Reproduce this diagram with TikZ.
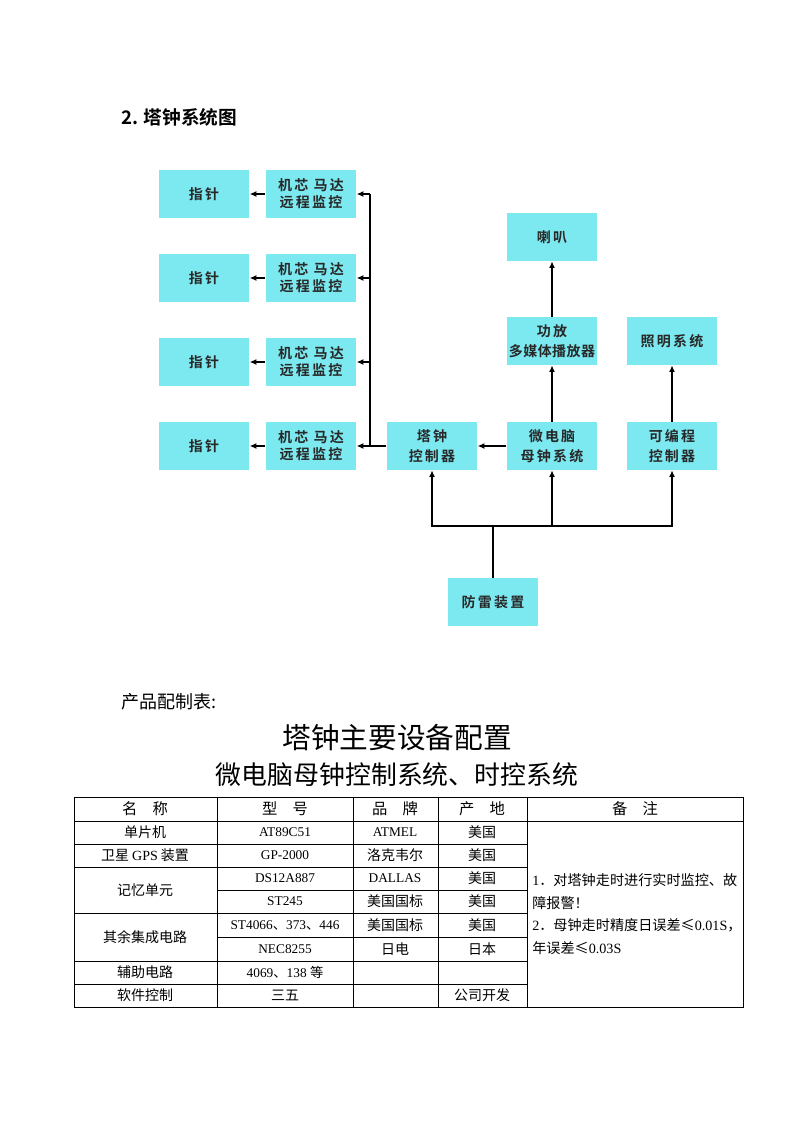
\documentclass[tikz,border=0pt]{standalone}
\usepackage{fontspec}
\setmainfont{Liberation Serif}
\newfontfamily\cjk{Noto Sans CJK SC}
\newfontfamily\cjkbf{Noto Sans CJK SC Bold}
\newfontfamily\boxfont[LetterSpace=16]{Noto Sans CJK SC Bold}
\usetikzlibrary{arrows.meta}
\definecolor{boxcyan}{RGB}{124,232,240}
\definecolor{boxtext}{RGB}{40,40,40}

\begin{document}
\begin{tikzpicture}[x=0.75pt, y=-0.75pt, >={Latex[length=5pt,width=4.4pt]},
  blk/.style={fill=boxcyan, minimum width=68pt, minimum height=36pt, inner sep=0pt,
    align=center, text=boxtext, font=\boxfont\fontsize{10.5}{13}\selectfont},
  wire/.style={line width=1.4pt},
  tbl/.style={line width=0.6pt},
  hdr/.style={inner sep=0pt, font=\cjk\fontsize{11.5}{13}\selectfont},
  zh/.style={inner sep=0pt, font=\cjk\fontsize{10.5}{12}\selectfont},
  en/.style={inner sep=0pt, font=\fontsize{10}{12}\selectfont}]
\useasboundingbox (0,0) rectangle (794,1123);

\node[anchor=west, inner sep=0pt, font=\cjkbf\fontsize{14}{16}\selectfont] (ttl) at (121,117) {2. 塔钟系统图};

% hands and movement monitors
\node[blk] (hd1) at (204,194) {指针};
\node[blk] (hd2) at (204,278) {指针};
\node[blk] (hd3) at (204,362) {指针};
\node[blk] (hd4) at (204,446) {指针};
\node[blk] (mt1) at (311,194) {机芯 马达\\远程监控};
\node[blk] (mt2) at (311,278) {机芯 马达\\远程监控};
\node[blk] (mt3) at (311,362) {机芯 马达\\远程监控};
\node[blk] (mt4) at (311,446) {机芯 马达\\远程监控};

% main chain
\node[blk] (tc) at (432,446) {塔钟\\[2pt]控制器};
\node[blk] (mc) at (552,446) {微电脑\\[2pt]母钟系统};
\node[blk] (plc) at (672,446) {可编程\\[2pt]控制器};
\node[blk] (amp) at (552,341) {功放\\[2pt]{\addfontfeature{LetterSpace=3}多媒体播放器}};
\node[blk] (lit) at (672,341) {照明系统};
\node[blk] (spk) at (552,237) {喇叭};
\node[blk] (lp) at (493,602) {防雷装置};

\coordinate (tk1) at (370,194);
\coordinate (tk2) at (370,278);
\coordinate (tk3) at (370,362);
\coordinate (tk4) at (370,446);
\coordinate (bus) at (493,526);

\draw[wire] (tc.west) -- (tk4) -- (tk1);
\draw[wire,->] (tk1) -- (mt1);
\draw[wire,->] (tk2) -- (mt2);
\draw[wire,->] (tk3) -- (mt3);
\draw[wire,->] (tk4) -- (mt4);
\draw[wire,->] (mt1) -- (hd1);
\draw[wire,->] (mt2) -- (hd2);
\draw[wire,->] (mt3) -- (hd3);
\draw[wire,->] (mt4) -- (hd4);

\draw[wire,->] (mc) -- (tc);
\draw[wire,->] (mc) -- (amp);
\draw[wire,->] (amp) -- (spk);
\draw[wire,->] (plc) -- (lit);
\draw[wire] (lp) -- (bus);
\draw[wire,->] (bus) -| (tc);
\draw[wire,->] (bus) -| (plc);
\draw[wire,->] (mc.south |- bus) -- (mc);

% table
\node[anchor=west, inner sep=0pt, font=\cjk\fontsize{13.5}{15}\selectfont] (ptab) at (121,702) {产品配制表:};
\node[inner sep=0pt, font=\cjk\fontsize{21.5}{24}\selectfont] (tt1) at (397,738) {塔钟主要设备配置};
\node[inner sep=0pt, font=\cjk\fontsize{19.4}{22}\selectfont] (tt2) at (397,775) {微电脑母钟控制系统、时控系统};

\draw[tbl] (74,797) rectangle (743,1007);
\draw[tbl] (74,821) -- (743,821)
  (74,844) -- (527,844) (74,867) -- (527,867) (217,890) -- (527,890)
  (74,913) -- (527,913) (217,937) -- (527,937) (74,961) -- (527,961)
  (74,984) -- (527,984)
  (217,797) -- (217,1007) (353,797) -- (353,1007)
  (438,797) -- (438,1007) (527,797) -- (527,1007);

\node[hdr] (h1) at (145,809) {名　称};
\node[hdr] (h2) at (285,809) {型　号};
\node[hdr] (h3) at (395,809) {品　牌};
\node[hdr] (h4) at (482,809) {产　地};
\node[hdr] (h5) at (635,809) {备　注};

\node[zh] (n1) at (145,832.5) {单片机};
\node[zh] (n2) at (145,855.5) {卫星 {\rmfamily GPS} 装置};
\node[zh] (n3) at (145,890) {记忆单元};
\node[zh] (n4) at (145,937) {其余集成电路};
\node[zh] (n5) at (145,972.5) {辅助电路};
\node[zh] (n6) at (145,995.5) {软件控制};

\node[en] (t1) at (285,832.5) {AT89C51};
\node[en] (t2) at (285,855.5) {GP-2000};
\node[en] (t3) at (285,878.5) {DS12A887};
\node[en] (t4) at (285,901.5) {ST245};
\node[en] (t5) at (285,925) {ST4066{\cjk 、}373{\cjk 、}446};
\node[en] (t6) at (285,949) {NEC8255};
\node[en] (t7) at (285,972.5) {4069{\cjk 、}138 {\cjk 等}};
\node[zh] (t8) at (285,995.5) {三五};

\node[en] (b1) at (395,832.5) {ATMEL};
\node[zh] (b2) at (395,855.5) {洛克韦尔};
\node[en] (b3) at (395,878.5) {DALLAS};
\node[zh] (b4) at (395,901.5) {美国国标};
\node[zh] (b5) at (395,925) {美国国标};
\node[zh] (b6) at (395,949) {日电};

\node[zh] (o1) at (482,832.5) {美国};
\node[zh] (o2) at (482,855.5) {美国};
\node[zh] (o3) at (482,878.5) {美国};
\node[zh] (o4) at (482,901.5) {美国};
\node[zh] (o5) at (482,925) {美国};
\node[zh] (o6) at (482,949) {日本};
\node[zh] (o7) at (482,995.5) {公司开发};

\node[anchor=west, inner sep=0pt, align=left, font=\cjk\fontsize{10.6}{17}\selectfont] (note) at (532,914)
  {{\rmfamily 1}．对塔钟走时进行实时监控、故\\障报警！\\{\rmfamily 2}．母钟走时精度日误差≤{\rmfamily 0.01S}，\\年误差≤{\rmfamily 0.03S}};
\end{tikzpicture}
\end{document}
